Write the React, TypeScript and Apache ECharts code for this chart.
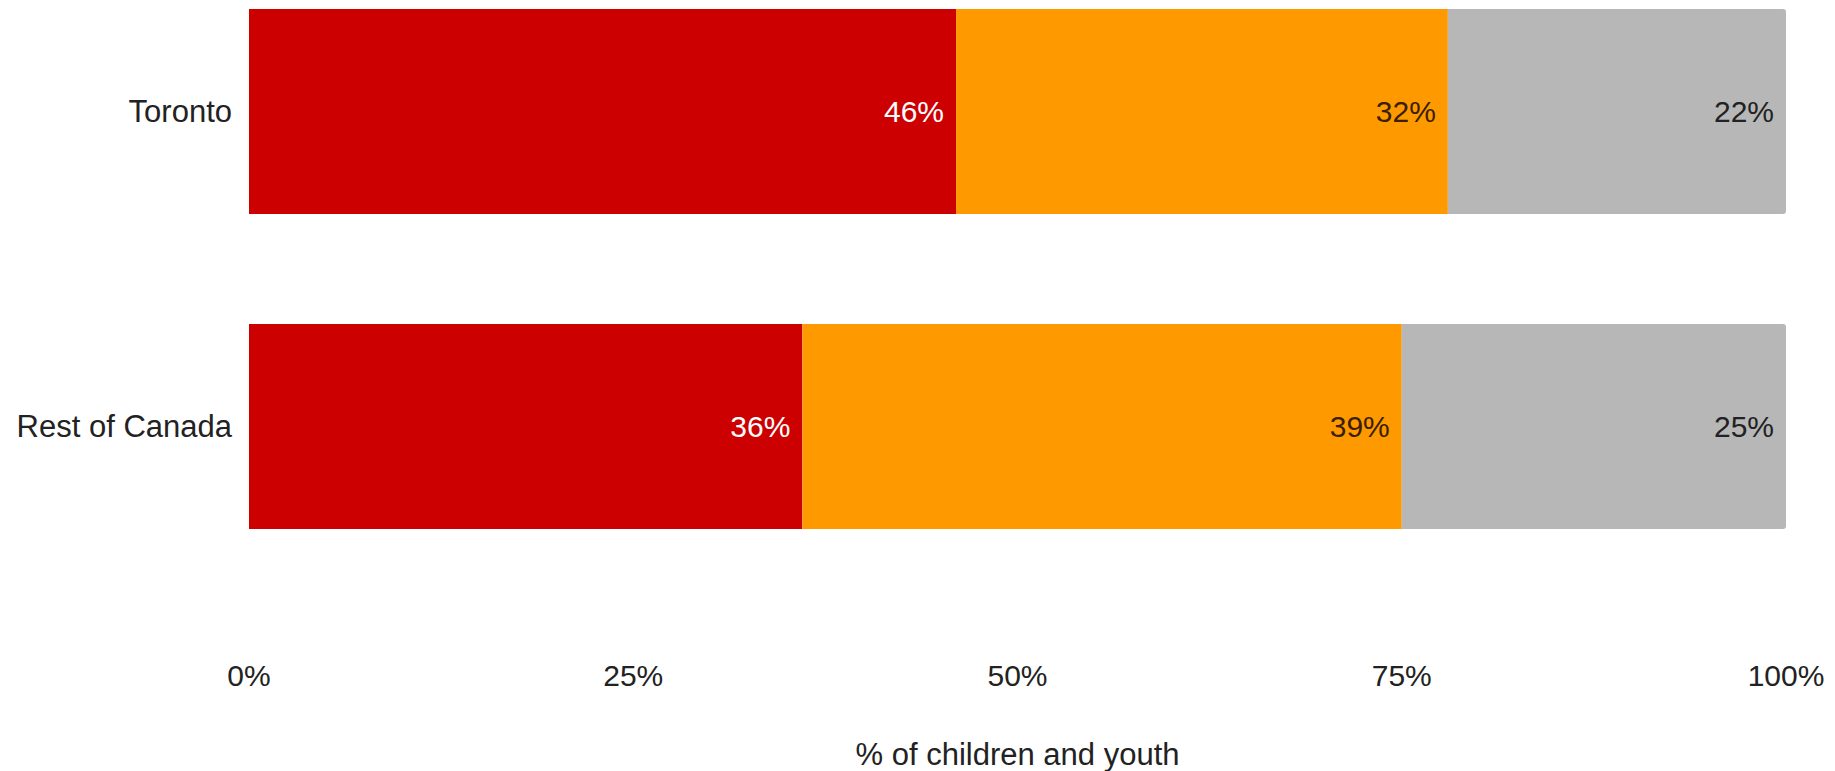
import React, { useEffect, useRef } from "react";
import * as echarts from "echarts";

// Regions compared in the stacked bars
const regions = ["Toronto", "Rest of Canada"];

// Share of children and youth (%) in each segment
const firstShare = [46, 36];
const secondShare = [32, 39];
const thirdShare = [22, 25];

// Value-axis tick settings
const axisMin = 0;
const axisMax = 100;
const axisStep = 25;

const axisTitle = "% of children and youth";

const FONT = "'Liberation Sans', Arial, Helvetica, sans-serif";

export default function App() {
  const ref = useRef<HTMLDivElement | null>(null);

  useEffect(() => {
    if (!ref.current) return;
    const chart = echarts.init(ref.current, undefined, { renderer: "svg" });

    const labelBase = {
      show: true,
      position: "insideRight" as const,
      distance: 12,
      fontFamily: FONT,
      fontSize: 30,
      formatter: "{c}%",
    };

    chart.setOption({
      animation: false,
      backgroundColor: "#ffffff",
      grid: {
        left: 249,
        right: 49,
        top: 0,
        bottom: 186,
        containLabel: false,
      },
      xAxis: {
        type: "value",
        min: axisMin,
        max: axisMax,
        interval: axisStep,
        axisLine: { show: false },
        axisTick: { show: false },
        splitLine: { show: false },
        axisLabel: {
          formatter: "{value}%",
          color: "#222222",
          fontFamily: FONT,
          fontSize: 30,
          margin: 76,
        },
        name: axisTitle,
        nameLocation: "middle",
        nameGap: 155,
        nameTextStyle: {
          color: "#222222",
          fontFamily: FONT,
          fontSize: 31,
          lineHeight: 31,
        },
      },
      yAxis: {
        type: "category",
        data: regions,
        inverse: true,
        axisLine: { show: false },
        axisTick: { show: false },
        splitLine: { show: false },
        axisLabel: {
          color: "#222222",
          fontFamily: FONT,
          fontSize: 31,
          margin: 17,
        },
      },
      series: [
        {
          name: "segment1",
          type: "bar",
          stack: "total",
          barWidth: 205,
          data: firstShare,
          itemStyle: { color: "#cc0000" },
          label: { ...labelBase, color: "#ffffff" },
        },
        {
          name: "segment2",
          type: "bar",
          stack: "total",
          barWidth: 205,
          data: secondShare,
          itemStyle: { color: "#ff9900" },
          label: { ...labelBase, color: "#3a2000" },
        },
        {
          name: "segment3",
          type: "bar",
          stack: "total",
          barWidth: 205,
          data: thirdShare,
          itemStyle: { color: "#b7b7b7", borderRadius: [0, 3, 3, 0] },
          label: { ...labelBase, color: "#222222" },
        },
      ],
    });

    return () => {
      chart.dispose();
    };
  }, []);

  // The chart area starts above the page edge so the first bar sits near the top
  return (
    <div
      ref={ref}
      style={{
        position: "absolute",
        left: 0,
        top: -46,
        width: 1835,
        height: 821,
      }}
    />
  );
}
